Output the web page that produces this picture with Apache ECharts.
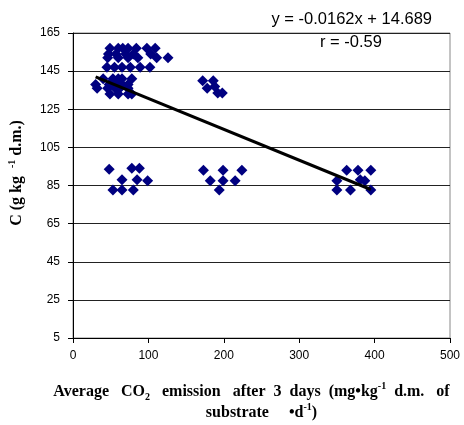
<!DOCTYPE html>
<html>
<head>
<meta charset="utf-8">
<script src="https://cdn.jsdelivr.net/npm/echarts@6/dist/echarts.min.js"></script>
<style>html,body{margin:0;padding:0;background:#fff;}#c{width:464px;height:425px;}</style>
</head>
<body>
<div id="c"></div>
<script>
// CO2 emission (x) values and C (y) values
const xValues = [
  49, 60, 66, 73, 84, 98, 109,
  47, 57, 70, 80, 103,
  46, 60, 73, 86, 111, 126,
  45, 55, 65, 76, 89, 102,
  40, 53, 60, 65, 78,
  30, 48, 56, 65, 73,
  32, 46, 56, 62, 73,
  49, 60, 73, 78,
  172, 186, 178, 188, 192, 198,
  48, 78, 88, 65, 85, 99, 53, 65, 80,
  173, 199, 224, 182, 199, 215, 194,
  363, 378, 395, 350, 381, 387, 350, 368, 395
];
const yValues = [
  157, 157, 157, 157, 157, 157, 157,
  154, 154, 154, 154, 154,
  152, 152, 152, 152, 152, 152,
  147, 147, 147, 147, 147, 147,
  141, 141, 141, 141, 141,
  138, 138, 138, 138, 138,
  136, 136, 136, 136, 136,
  133, 133, 133, 133,
  140, 140, 136, 137, 133.5, 133.5,
  93.5, 94, 94, 88, 88, 87.5, 82.6, 82.6, 82.6,
  93, 93, 93, 87.5, 87.5, 87.5, 82.6,
  93, 93, 93, 87.5, 88, 87.5, 82.6, 82.6, 82.6
];
// regression (equation coefficients in plotted units)
const slope = -0.162;
const intercept = 146.89;
const xTicks = [0, 100, 200, 300, 400, 500];
const yTicks = [5, 25, 45, 65, 85, 105, 125, 145, 165];

const points = xValues.map((x, i) => [x, yValues[i]]);
const xMinD = Math.min(...xValues), xMaxD = Math.max(...xValues);
const fitLine = [[xMinD, intercept + slope * xMinD], [xMaxD, intercept + slope * xMaxD]];

const serifB = {fontFamily: 'Liberation Serif', fontWeight: 'bold', fontSize: 16, color: '#000'};
const supS = {fontFamily: 'Liberation Serif', fontWeight: 'bold', fontSize: 10, color: '#000'};

const chart = echarts.init(document.getElementById('c'));
chart.setOption({
  animation: false,
  backgroundColor: '#fff',
  grid: {left: 73, right: 14, top: 33, bottom: 87, show: true, borderColor: '#888', borderWidth: 1,
         containLabel: false, outerBoundsMode: 'none'},
  xAxis: {
    type: 'value', min: xTicks[0], max: xTicks[xTicks.length - 1], interval: 100,
    axisLine: {lineStyle: {color: '#000', width: 1}},
    axisTick: {show: true, length: 5, lineStyle: {color: '#000'}},
    axisLabel: {fontFamily: 'Liberation Sans', fontSize: 12, color: '#000', margin: 12},
    splitLine: {show: false},
    nameLocation: 'middle', nameGap: 43,
    name: '{b|Average   CO}{sub|2}{b|   emission   after  3  days  (mg•kg}{sup|-1}{b|  d.m.   of}{b|     }\n{b|substrate     •d}{sup|-1}{b|)}',
    nameTextStyle: {
      rich: {
        b: Object.assign({lineHeight: 21}, serifB),
        sup: Object.assign({verticalAlign: 'top', lineHeight: 21}, supS),
        sub: Object.assign({verticalAlign: 'bottom', lineHeight: 21}, supS)
      }
    }
  },
  yAxis: {
    type: 'value', min: yTicks[0], max: yTicks[yTicks.length - 1], interval: 20,
    axisLine: {show: true, lineStyle: {color: '#000', width: 1}},
    axisTick: {show: true, length: 5, lineStyle: {color: '#000'}},
    axisLabel: {fontFamily: 'Liberation Sans', fontSize: 12, color: '#000', margin: 13},
    splitLine: {show: true, lineStyle: {color: '#222', width: 1}},
    nameLocation: 'middle', nameGap: 46, nameRotate: 90,
    name: '{b|C (g kg  }{sup|-1}{b| d.m.)}',
    nameTextStyle: {
      padding: [0, 0, 0, 25],
      rich: {
        b: Object.assign({lineHeight: 20}, serifB),
        sup: Object.assign({verticalAlign: 'top', lineHeight: 20}, supS)
      }
    }
  },
  series: [
    {
      type: 'scatter', data: points, symbol: 'diamond', symbolSize: [11, 11],
      itemStyle: {color: '#000080', opacity: 1}, z: 2
    },
    {
      type: 'line', data: fitLine, symbol: 'none', lineStyle: {color: '#000', width: 3}, z: 3
    }
  ],
  graphic: [
    {type: 'text', right: 32, top: 11, style: {text: 'y = -0.0162x + 14.689', fontFamily: 'Liberation Sans', fontSize: 16.5, fill: '#000'}},
    {type: 'text', left: 320, top: 34, style: {text: 'r = -0.59', fontFamily: 'Liberation Sans', fontSize: 16.5, fill: '#000'}}
  ]
});
</script>
</body>
</html>
